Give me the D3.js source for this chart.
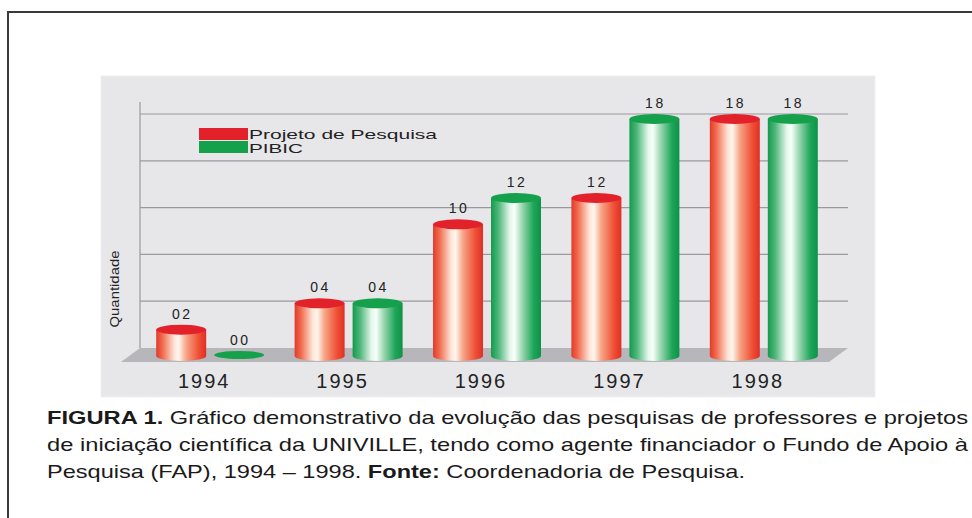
<!DOCTYPE html>
<html>
<head>
<meta charset="utf-8">
<script src="https://cdn.jsdelivr.net/npm/d3@7"></script>
<style>
  html, body { margin: 0; padding: 0; background: #fff; }
  svg { display: block; font-family: "Liberation Sans", Arial, sans-serif; }
</style>
</head>
<body>
<svg id="chart" width="972" height="518"></svg>
<script>
// data
const years = ["1994", "1995", "1996", "1997", "1998"];
const series = ["Projeto de Pesquisa", "PIBIC"];
const projeto = [2, 4, 10, 12, 18];
const pibic = [0, 4, 12, 18, 18];
const gridValues = [4, 8, 12, 16, 20];
const axisTitle = "Quantidade";

const svg = d3.select("#chart");

// outer frame of the figure (only top and left edges show)
svg.append("path")
  .attr("d", "M8,518 V12 H972")
  .attr("fill", "none")
  .attr("stroke", "#3a3a3a")
  .attr("stroke-width", 2);

// grey panel behind the chart
svg.append("rect")
  .attr("x", 101).attr("y", 76)
  .attr("width", 774).attr("height", 321)
  .attr("fill", "#e7e7ea")
  .attr("stroke", "#f0f0f2");

const x0 = d3.scaleBand().domain(years).range([141, 833]);
const x1 = d3.scaleBand().domain(series)
  .range([x0.bandwidth() / 2 - 54, x0.bandwidth() / 2 + 54])
  .paddingInner(8 / 58);
const y = d3.scaleLinear().domain([0, 18]).range([356, 119]);
// gridlines sit on the back wall, which has its own scale
const yWall = d3.scaleLinear().domain([0, 20]).range([348, 114]);

const defs = svg.append("defs");
function cylGrad(id, stops) {
  const g = defs.append("linearGradient").attr("id", id)
    .attr("x1", "0%").attr("x2", "100%").attr("y1", "0%").attr("y2", "0%");
  stops.forEach(s => g.append("stop").attr("offset", s[0]).attr("stop-color", s[1]));
}
cylGrad("gRed", [["0%", "#e23b2c"], ["12%", "#f0674a"], ["36%", "#fde4d6"], ["45%", "#fff6ee"], ["60%", "#f7a486"], ["85%", "#ef4f34"], ["100%", "#df2f27"]]);
cylGrad("gGreen", [["0%", "#139a4d"], ["15%", "#4fb77a"], ["38%", "#e6f7ec"], ["47%", "#f6fff9"], ["63%", "#98d5ae"], ["85%", "#1ea65a"], ["100%", "#0f9148"]]);

const colors = {
  "Projeto de Pesquisa": { grad: "url(#gRed)", top: "#e3212b" },
  "PIBIC": { grad: "url(#gGreen)", top: "#15a04c" }
};

// gridlines + y axis line
const grid = svg.append("g");
grid.selectAll("line.grid").data(gridValues).join("line")
  .attr("class", "grid")
  .attr("x1", 140).attr("x2", 848)
  .attr("y1", d => yWall(d)).attr("y2", d => yWall(d))
  .attr("stroke", "#9a9a9e").attr("stroke-width", 1.2);
grid.append("line")
  .attr("x1", 140).attr("x2", 140)
  .attr("y1", 102).attr("y2", yWall(0))
  .attr("stroke", "#9a9a9e").attr("stroke-width", 1.2);

// floor
const depthX = -19, depthY = 14;
svg.append("path")
  .attr("d", `M140,${yWall(0)} H848 l${depthX},${depthY} H${140 + depthX} Z`)
  .attr("fill", "#b7b7bb");

// legend
const legendWidths = [188, 54];
const legend = svg.append("g");
series.forEach((s, i) => {
  legend.append("rect")
    .attr("x", 199).attr("y", 128 + i * 13)
    .attr("width", 49).attr("height", 12)
    .attr("fill", colors[s].top);
  legend.append("text")
    .attr("x", 249).attr("y", 139 + i * 14)
    .attr("font-size", 13)
    .attr("textLength", legendWidths[i])
    .attr("lengthAdjust", "spacingAndGlyphs")
    .attr("fill", "#222")
    .text(s);
});

// y axis title
svg.append("text")
  .attr("transform", "translate(119,289) rotate(-90)")
  .attr("text-anchor", "middle")
  .attr("font-size", 12)
  .attr("textLength", 77)
  .attr("lengthAdjust", "spacingAndGlyphs")
  .attr("fill", "#222")
  .text(axisTitle);

// cylinders
const rows = years.map((yr, i) => ({
  year: yr,
  vals: [{ s: series[0], v: projeto[i] }, { s: series[1], v: pibic[i] }]
}));
const ry = 5;

const groups = svg.selectAll("g.year").data(rows).join("g")
  .attr("class", "year")
  .attr("transform", d => `translate(${x0(d.year)},0)`);

const bars = groups.selectAll("g.bar").data(d => d.vals).join("g")
  .attr("class", "bar");

bars.each(function (d) {
  const g = d3.select(this);
  const cx = x1(d.s) + x1.bandwidth() / 2;
  const rx = x1.bandwidth() / 2;
  const top = y(d.v), base = y(0);
  if (d.v > 0) {
    g.append("ellipse")
      .attr("cx", cx).attr("cy", base).attr("rx", rx).attr("ry", ry)
      .attr("fill", colors[d.s].grad);
    g.append("rect")
      .attr("x", x1(d.s)).attr("y", top)
      .attr("width", x1.bandwidth()).attr("height", base - top)
      .attr("fill", colors[d.s].grad);
  }
  g.append("ellipse")
    .attr("cx", cx).attr("cy", d.v > 0 ? top : top - 1).attr("rx", rx).attr("ry", d.v > 0 ? ry : 4)
    .attr("fill", colors[d.s].top);
  g.append("text")
    .attr("x", cx + 1).attr("y", top - 11)
    .attr("text-anchor", "middle")
    .attr("font-size", 14)
    .attr("letter-spacing", 2.5)
    .attr("fill", "#222")
    .text(d3.format("02d")(d.v));
});

// year labels
svg.selectAll("text.yearLabel").data(years).join("text")
  .attr("class", "yearLabel")
  .attr("x", d => x0(d) + x0.bandwidth() / 2 - 6)
  .attr("y", 388)
  .attr("text-anchor", "middle")
  .attr("font-size", 20)
  .attr("letter-spacing", 2)
  .attr("fill", "#222")
  .text(d => d);

// caption
const caption = svg.append("g").attr("font-size", 19).attr("fill", "#1a1a1a");
const l1 = caption.append("text").attr("x", 47).attr("y", 424)
  .attr("textLength", 921).attr("lengthAdjust", "spacingAndGlyphs");
l1.append("tspan").attr("font-weight", "bold").text("FIGURA 1.");
l1.append("tspan").text(" Gráfico demonstrativo da evolução das pesquisas de professores e projetos");
caption.append("text").attr("x", 47).attr("y", 451)
  .attr("textLength", 921).attr("lengthAdjust", "spacingAndGlyphs")
  .text("de iniciação científica da UNIVILLE, tendo como agente financiador o Fundo de Apoio à");
const l3 = caption.append("text").attr("x", 47).attr("y", 478)
  .attr("textLength", 698).attr("lengthAdjust", "spacingAndGlyphs");
l3.append("tspan").text("Pesquisa (FAP), 1994 – 1998. ");
l3.append("tspan").attr("font-weight", "bold").text("Fonte:");
l3.append("tspan").text(" Coordenadoria de Pesquisa.");
</script>
</body>
</html>
